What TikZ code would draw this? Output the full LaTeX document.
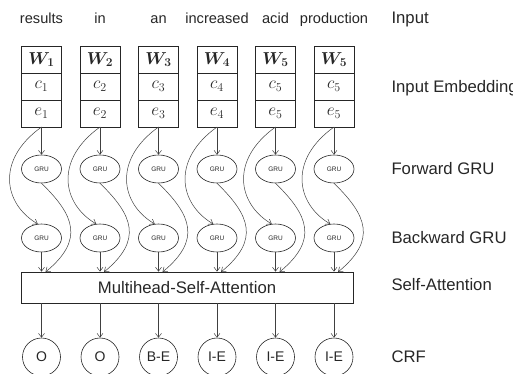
\documentclass[tikz,border=0pt]{standalone}
\usepackage{fontspec}
\setmainfont{Liberation Sans}
\usepackage{amsmath,bm}
\usetikzlibrary{arrows.meta,shapes.geometric,positioning}

\newcommand{\nerCellWidth}{40pt}
\newcommand{\nerCellHeight}{27pt}
\tikzset{
  ner base/.style={font=\fontsize{14.6}{17}\selectfont, text=black!85},
  ner arrow/.style={draw=black!75, line width=0.5pt,
    -{Straight Barb[length=4pt,width=6pt]}},
  ner cell/.style={draw=black!85, rectangle, line width=0.8pt,
    minimum width=\nerCellWidth, minimum height=\nerCellHeight,
    inner sep=0pt, outer sep=0pt, font=\fontsize{17}{20}\selectfont},
  ner gru/.style={draw=black!85, ellipse, line width=0.6pt,
    minimum width=40pt, minimum height=28pt, inner sep=0pt,
    font=\fontsize{6.5}{8}\selectfont},
  ner crf/.style={draw=black!85, circle, line width=0.6pt,
    minimum size=38pt, inner sep=0pt, font=\fontsize{14}{16}\selectfont},
  ner layer/.style={anchor=west, font=\fontsize{16.7}{20}\selectfont},
}

\begin{document}
\begin{tikzpicture}[ner base, x=1pt, y=-1pt]
\useasboundingbox (0,0) rectangle (513,374);

% attention layer
\node (att) [draw=black!85, line width=0.8pt, minimum width=332pt,
  minimum height=31pt, inner sep=0pt, font=\fontsize{16.7}{20}\selectfont]
  at (187,287.5) {Multihead-Self-Attention};

% one column per token
\foreach \i/\word/\sub/\tag in {1/results/1/O, 2/in/2/O, 3/an/3/B-E,
    4/increased/4/I-E, 5/acid/5/I-E, 6/production/5/I-E} {
  \pgfmathsetmacro{\x}{41.5+58.5*(\i-1)}
  \node (t\i) [anchor=base] at (\x,24) {\word};
  \node (w\i) [ner cell] at (\x,59.5) {$\bm{W}_{\bm{\sub}}$};
  \node (c\i) [ner cell, below=0pt of w\i] {$c_{\sub}$};
  \node (e\i) [ner cell, below=0pt of c\i] {$e_{\sub}$};
  \node (f\i) [ner gru] at (\x,169) {GRU};
  \node (b\i) [ner gru] at (\x,238) {GRU};
  \node (o\i) [ner crf] at (\x,357) {\tag};
  \coordinate (in\i) at (\x+4,272);

  \draw [ner arrow] (e\i) -- (f\i);
  \draw [ner arrow] (e\i.south) .. controls +(-46,33) and +(-34,-20) .. (b\i.105);
  \draw [ner arrow] (f\i.south) .. controls +(33,32) and +(39,-32) .. (in\i);
  \draw [ner arrow] (b\i) -- (b\i |- att.north);
  \draw [ner arrow] (att.south -| o\i) -- (o\i);
}

% layer names
\node [ner layer, anchor=base west] at (388,24) {Input};
\node [ner layer] at (388,88) {Input Embedding};
\node [ner layer] at (388,169) {Forward GRU};
\node [ner layer] at (388,238) {Backward GRU};
\node [ner layer] at (388,285) {Self-Attention};
\node [ner layer] at (388,357) {CRF};
\end{tikzpicture}
\end{document}
